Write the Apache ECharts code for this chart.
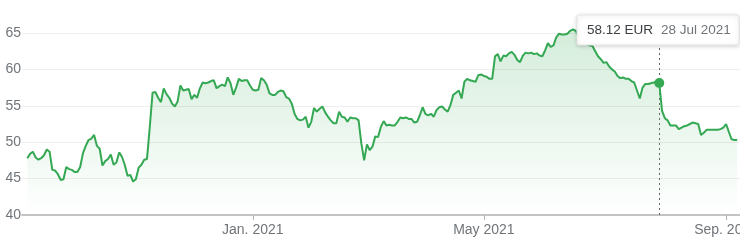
<!DOCTYPE html>
<html><head><meta charset="utf-8">
<script src="https://cdn.jsdelivr.net/npm/echarts@6/dist/echarts.min.js"></script>
<style>html,body{margin:0;padding:0;background:#fff}#c{width:740px;height:241px}</style>
</head><body><div id="c"></div>
<script>
// Daily closing prices (EUR), one per trading day, Sep 2020 - Sep 2021
const prices = [
47.8,48.4,48.7,47.9,47.6,47.8,48.2,49.0,48.7,46.2,
46.1,45.6,44.8,44.9,46.6,46.3,46.2,45.9,45.9,46.6,
48.5,49.5,50.3,50.5,51.0,49.5,49.1,46.8,47.4,47.7,
48.3,46.9,47.2,48.6,48.0,46.9,45.4,45.5,44.6,44.9,
46.5,46.9,47.6,47.7,52.1,56.8,56.9,56.1,55.5,57.4,
56.6,56.1,55.3,54.9,55.6,57.8,57.1,57.2,57.3,55.9,
56.5,56.1,57.4,58.2,58.1,58.2,58.4,58.5,57.4,57.7,
57.9,57.7,58.9,58.1,56.5,57.5,58.7,58.4,58.5,58.5,
57.8,57.2,57.1,57.2,58.8,58.5,57.9,56.7,56.5,56.5,
56.9,57.1,57.0,56.2,56.0,55.3,53.9,53.2,53.0,53.1,
53.5,52.0,52.8,54.7,54.2,54.6,54.9,54.1,53.5,53.0,
52.6,52.6,54.2,53.5,53.4,52.8,53.4,53.3,53.3,53.0,
49.8,47.5,49.7,48.9,49.4,50.8,50.7,52.1,52.9,52.3,
52.4,52.3,52.3,52.8,53.4,53.3,53.4,53.2,53.2,52.7,
52.8,53.7,54.8,53.9,53.7,53.9,53.5,54.4,54.8,54.9,
54.5,54.2,55.1,56.5,56.8,57.1,56.0,58.3,58.7,58.5,
58.4,58.3,59.2,59.3,59.1,59.0,58.7,58.7,61.8,62.1,
61.1,61.9,61.8,62.2,62.4,62.0,61.3,61.0,61.9,62.3,
62.2,62.3,62.1,62.2,61.9,61.8,62.6,63.6,63.1,63.3,
64.4,64.9,64.8,64.8,64.9,65.3,65.5,65.3,64.6,64.2,
63.9,63.5,63.3,63.2,62.5,61.8,61.4,60.9,61.0,60.4,
60.0,59.7,59.1,58.8,58.9,58.7,58.7,58.4,58.2,57.1,
56.0,57.5,58.0,58.0,58.1,58.2,58.3,58.12,54.3,53.3,
53.0,52.3,52.3,52.3,51.8,52.0,52.2,52.3,52.5,52.7,
52.6,52.5,51.0,51.3,51.7,51.7,51.7,51.7,51.7,51.8,
52.0,52.5,51.4,50.4,50.3,50.3
];
// x-axis tick positions (trading-day index) and labels
const tickIndex = [81, 164, 251];
const tickLabels = ["Jan. 2021", "May 2021", "Sep. 2021"];
// y-axis ticks
const yTicks = [40, 45, 50, 55, 60, 65];
// highlighted point (tooltip)
const hoverIndex = 227;
const hoverValue = 58.12;
const hoverPriceText = "58.12 EUR";
const hoverDateText = "28 Jul 2021";

const green = '#34a853';
const font = '"Liberation Sans", Arial, sans-serif';
const data = prices.map((v, i) => [i, v]);

const chart = echarts.init(document.getElementById('c'), null, {renderer: 'canvas'});
chart.setOption({
  animation: false,
  backgroundColor: '#fff',
  grid: {left: 22, right: 0, top: 33, bottom: 26, containLabel: false, outerBoundsMode: 'none'},
  xAxis: {
    type: 'value', min: -1.9, max: 256,
    splitLine: {show: false},
    axisLine: {show: true, lineStyle: {color: '#c4c4c4', width: 2}},
    axisTick: {show: true, customValues: tickIndex, length: 5, lineStyle: {color: '#b5b5b5', width: 1}},
    axisLabel: {
      customValues: tickIndex, margin: 8, color: '#70757a', fontSize: 14, fontFamily: font,
      formatter: v => tickLabels[tickIndex.indexOf(Math.round(v))] || ''
    }
  },
  yAxis: {
    type: 'value', min: yTicks[0], max: yTicks[yTicks.length - 1], interval: 5,
    axisLine: {show: false}, axisTick: {show: false},
    splitLine: {show: true, lineStyle: {color: '#eeeeee', width: 1}},
    axisLabel: {margin: 1, color: '#70757a', fontSize: 14, fontFamily: font}
  },
  series: [{
    type: 'line', data: data, clip: false, showSymbol: false, symbol: 'none',
    lineStyle: {color: green, width: 2},
    areaStyle: {
      color: new echarts.graphic.LinearGradient(0, 0, 0, 1, [
        {offset: 0, color: 'rgba(52,168,83,0.30)'},
        {offset: 1, color: 'rgba(52,168,83,0.0)'}
      ])
    },
    markLine: {
      silent: true, symbol: 'none', label: {show: false}, z: 1,
      lineStyle: {color: '#666', width: 1, type: [2, 3]},
      data: [{xAxis: hoverIndex}]
    },
    markPoint: {
      silent: true, symbol: 'circle', symbolSize: 10, label: {show: false},
      itemStyle: {color: green},
      data: [{coord: [hoverIndex, hoverValue]}]
    }
  }],
  graphic: [
    {type: 'rect', z: 1000, zlevel: 1, shape: {x: 577, y: 15, width: 162, height: 30, r: 2},
     style: {fill: '#fff', stroke: '#e6e6e6', lineWidth: 1, shadowBlur: 4, shadowColor: 'rgba(0,0,0,0.18)', shadowOffsetY: 1}},
    {type: 'text', z: 1001, zlevel: 1, x: 587, y: 30, style: {text: hoverPriceText, fill: '#3c4043', font: '13.5px ' + font, verticalAlign: 'middle'}},
    {type: 'text', z: 1001, zlevel: 1, x: 661, y: 30, style: {text: hoverDateText, fill: '#70757a', font: '13.5px ' + font, verticalAlign: 'middle'}}
  ]
});
</script></body></html>
